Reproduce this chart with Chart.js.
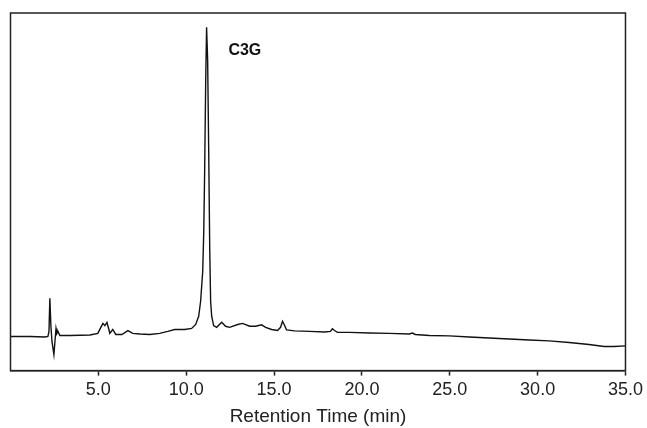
<!DOCTYPE html>
<html>
<head>
    <meta charset="UTF-8">
    <title>Chromatogram</title>
    <script src="https://cdn.jsdelivr.net/npm/chart.js"></script>
    <style>
        html, body {
            margin: 0;
            padding: 0;
            background: #fff;
        }
        #wrap {
            width: 647px;
            height: 428px;
        }
    </style>
</head>
<body>
<div id="wrap">
    <canvas id="chromChart" width="647" height="428"></canvas>
</div>
<script>
    // retention time (min) and detector signal (arbitrary units, 0-100 frame)
    const times = [
        0, 1.11, 1.96, 2.13, 2.19, 2.24, 2.30, 2.36, 2.47, 2.53, 2.59, 2.64, 2.70, 2.81, 3.38, 4.52,
        4.97, 5.14, 5.26, 5.37, 5.49, 5.60, 5.65, 5.82, 5.99, 6.34, 6.68, 6.96, 7.36, 7.93, 8.49, 8.95,
        9.35, 9.91, 10.31, 10.54, 10.71, 10.82, 10.94, 11.00, 11.05, 11.11, 11.16, 11.22, 11.28, 11.34,
        11.39, 11.45, 11.56, 11.73, 12.02, 12.24, 12.47, 12.93, 13.21, 13.61, 13.95, 14.29, 14.52, 14.86,
        15.20, 15.37, 15.48, 15.60, 15.71, 16.17, 17.02, 17.87, 18.21, 18.32, 18.44, 18.61, 19.29, 20.43,
        21.56, 22.70, 22.87, 23.04, 23.84, 24.97, 26.11, 27.24, 28.38, 29.52, 30.65, 31.79, 32.93, 33.78,
        34.35, 35.0
    ];
    const signal = [
        9.55, 9.55, 9.41, 9.55, 10.96, 20.2, 12.4, 8.15, 4.49, 8.15, 11.8, 10.4, 10.96, 9.8, 9.8, 9.97,
        10.4, 12.1, 13.2, 12.6, 13.5, 11.5, 10.4, 11.5, 10.1, 10.1, 11.2, 10.4, 10.25, 10.1, 10.4, 10.96,
        11.5, 11.5, 11.8, 12.9, 15.2, 19.4, 27.8, 39.0, 55.9, 81.2, 96.0, 86.8, 61.5, 33.4,
        19.4, 15.2, 12.6, 12.1, 13.5, 12.4, 12.1, 12.9, 13.2, 12.4, 12.4, 12.8, 12.1, 11.5,
        11.2, 12.1, 13.8, 12.6, 11.4, 11.1, 10.96, 10.8, 10.96, 11.7, 11.2, 10.7, 10.7, 10.5,
        10.4, 10.25, 10.5, 10.1, 9.8, 9.7, 9.4, 9.1, 8.85, 8.57, 8.3, 7.87, 7.3, 6.74,
        6.74, 6.9
    ];
    const xTicks = [5, 10, 15, 20, 25, 30, 35];
    const peakLabel = { text: 'C3G', x: 12.4, y: 89.6 };

    const points = times.map((t, i) => ({ x: t, y: signal[i] }));
    const FONT = '"Liberation Sans", Arial, sans-serif';

    // box around the plot + peak annotation
    const framePlugin = {
        id: 'frame',
        afterDraw(chart) {
            const ctx = chart.ctx;
            const a = chart.chartArea;
            ctx.save();
            ctx.strokeStyle = '#222';
            ctx.lineWidth = 1.5;
            ctx.strokeRect(a.left, a.top, a.right - a.left, a.bottom - a.top);
            const xs = chart.scales.x, ys = chart.scales.y;
            ctx.fillStyle = '#111';
            ctx.font = 'bold 16px ' + FONT;
            ctx.textAlign = 'left';
            ctx.textBaseline = 'middle';
            ctx.fillText(peakLabel.text, xs.getPixelForValue(peakLabel.x), ys.getPixelForValue(peakLabel.y));
            ctx.restore();
        }
    };

    new Chart(document.getElementById('chromChart').getContext('2d'), {
        type: 'line',
        data: {
            datasets: [{
                data: points,
                borderColor: '#111',
                borderWidth: 1.4,
                pointRadius: 0,
                tension: 0,
                fill: false
            }]
        },
        options: {
            responsive: false,
            animation: false,
            layout: {
                padding: { left: 10.5, right: 21, top: 13, bottom: 0 }
            },
            plugins: {
                legend: { display: false },
                tooltip: { enabled: false }
            },
            scales: {
                x: {
                    type: 'linear',
                    min: 0,
                    max: 35,
                    afterBuildTicks(scale) {
                        scale.ticks = [0].concat(xTicks).map(v => ({ value: v }));
                    },
                    grid: {
                        drawOnChartArea: false,
                        drawTicks: true,
                        tickLength: 5,
                        tickWidth: 1.5,
                        color: ctx => (ctx.tick && ctx.tick.value === 0) ? 'rgba(0,0,0,0)' : '#222'
                    },
                    border: { display: true, color: '#222', width: 1.5 },
                    ticks: {
                        color: '#222',
                        padding: 4,
                        maxRotation: 0,
                        font: { family: FONT, size: 18 },
                        callback: v => v === 0 ? '' : v.toFixed(1)
                    },
                    title: {
                        display: true,
                        text: 'Retention Time (min)',
                        color: '#222',
                        padding: { top: 0, bottom: 0 },
                        font: { family: FONT, size: 19 }
                    }
                },
                y: {
                    display: false,
                    min: 0,
                    max: 100
                }
            }
        },
        plugins: [framePlugin]
    });
</script>
</body>
</html>
